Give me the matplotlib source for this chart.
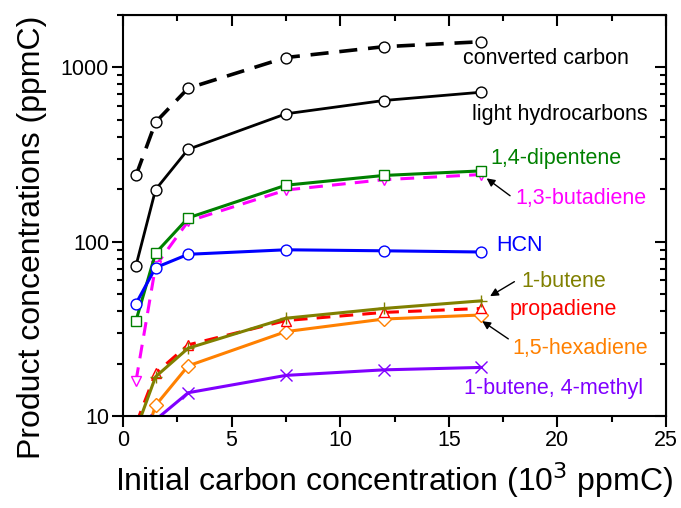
import matplotlib
matplotlib.use("Agg")
import matplotlib.pyplot as plt
from matplotlib.ticker import FixedLocator, NullFormatter, LogLocator

plt.rcParams["font.family"] = ["Liberation Sans", "DejaVu Sans"]

x = [0.6, 1.5, 3.0, 7.5, 12.0, 16.5]

converted_carbon = [240, 485, 760, 1140, 1315, 1405]
light_hydrocarbons = [73, 199, 339, 542, 646, 721]
dipentene_14 = [35.3, 86, 137, 211, 240, 255]
butadiene_13 = [15.9, 72.5, 131, 198, 227, 243]
hcn = [44.2, 71, 84.7, 89.9, 88.7, 87.3]
butene_1 = [8.3, 16.8, 24.5, 36.4, 41.4, 45.8]
propadiene = [9.0, 17.6, 25.6, 35.3, 39.3, 41.4]
hexadiene_15 = [5.2, 11.5, 19.4, 30.5, 36.0, 38.0]
x_methyl = [1.5, 3.0, 7.5, 12.0, 16.5]
butene_4methyl = [9.5, 13.6, 17.1, 18.4, 19.0]

fig = plt.figure(figsize=(6.81, 5.08), dpi=100)
ax = fig.add_axes([0.1806, 0.1811, 0.7974, 0.7894])

mk = dict(markersize=7.8, markerfacecolor="white", markeredgewidth=1.0)

ax.plot(x, converted_carbon, color="black", lw=2.6, ls=(0, (5, 3)),
        marker="o", markeredgecolor="black", **mk)
ax.plot(x, light_hydrocarbons, color="black", lw=2.0,
        marker="o", markeredgecolor="black", **mk)
ax.plot(x, butadiene_13, color="#FF00FF", lw=2.2, ls=(0, (4.5, 3)),
        marker="v", markeredgecolor="#FF00FF", **mk)
ax.plot(x, dipentene_14, color="#008000", lw=2.2,
        marker="s", markeredgecolor="#008000", **mk)
ax.plot(x, hcn, color="#0000FF", lw=2.2,
        marker="o", markeredgecolor="#0000FF", **mk)
ax.plot(x, hexadiene_15, color="#FF8000", lw=2.2,
        marker="D", markeredgecolor="#FF8000", markersize=6.8,
        markerfacecolor="white", markeredgewidth=1.0)
ax.plot(x, propadiene, color="#FF0000", lw=2.2, ls=(0, (4.5, 3)),
        marker="^", markeredgecolor="#FF0000", **mk)
ax.plot(x, butene_1, color="#808000", lw=2.2,
        marker="+", markeredgecolor="#808000", markersize=9, markeredgewidth=1.0)
ax.plot(x_methyl, butene_4methyl, color="#8000FF", lw=2.2,
        marker="x", markeredgecolor="#8000FF", markersize=8, markeredgewidth=1.0)

ax.set_yscale("log")
ax.set_xlim(0, 25)
ax.set_ylim(10, 2000)
ax.xaxis.set_major_locator(FixedLocator([0, 5, 10, 15, 20, 25]))
ax.xaxis.set_minor_locator(FixedLocator([2.5, 7.5, 12.5, 17.5, 22.5]))
ax.yaxis.set_major_locator(FixedLocator([10, 100, 1000]))
ax.yaxis.set_minor_locator(LogLocator(base=10, subs=range(2, 10)))
ax.yaxis.set_minor_formatter(NullFormatter())
ax.set_yticklabels(["10", "100", "1000"])

for side in ax.spines.values():
    side.set_linewidth(1.5)
ax.tick_params(axis="both", which="major", direction="out", length=8, width=1.5,
               labelsize=15.5, pad=2)
ax.tick_params(axis="both", which="minor", direction="out", length=4.5, width=1.5)

# mirrored inward ticks on top and right
axt = ax.secondary_xaxis("top")
axt.xaxis.set_major_locator(FixedLocator([0, 5, 10, 15, 20, 25]))
axt.xaxis.set_minor_locator(FixedLocator([2.5, 7.5, 12.5, 17.5, 22.5]))
axt.tick_params(which="major", direction="in", length=8, width=1.5, labeltop=False)
axt.tick_params(which="minor", direction="in", length=4.5, width=1.5)
axr = ax.secondary_yaxis("right")
axr.yaxis.set_major_locator(FixedLocator([10, 100, 1000]))
axr.yaxis.set_minor_locator(LogLocator(base=10, subs=range(2, 10)))
axr.tick_params(which="major", direction="in", length=8, width=1.5, labelright=False)
axr.tick_params(which="minor", direction="in", length=4.5, width=1.5, labelright=False)

ax.set_xlabel("Initial carbon concentration (10$^3$ ppmC)", fontsize=23, labelpad=7)
ax.set_ylabel("Product concentrations (ppmC)", fontsize=23)
ax.yaxis.set_label_coords(-0.14, 0.446)

fs = 15.5
ax.text(15.65, 1040, "converted carbon", color="black", fontsize=fs)
ax.text(16.07, 501, "light hydrocarbons", color="black", fontsize=fs)
ax.text(16.9, 280, "1,4-dipentene", color="#008000", fontsize=fs)
ax.text(18.05, 164, "1,3-butadiene", color="#FF00FF", fontsize=fs)
ax.text(17.17, 88.5, "HCN", color="#0000FF", fontsize=fs)
ax.text(18.36, 55.2, "1-butene", color="#808000", fontsize=fs)
ax.text(17.82, 38.2, "propadiene", color="#FF0000", fontsize=fs)
ax.text(17.94, 22.8, "1,5-hexadiene", color="#FF8000", fontsize=fs)
ax.text(15.7, 13.3, "1-butene, 4-methyl", color="#8000FF", fontsize=fs)

arrow = dict(arrowstyle="-|>", color="black", lw=1.0, mutation_scale=12,
             shrinkA=0, shrinkB=0)
ax.annotate("", xy=(16.74, 231), xytext=(17.82, 183.6), arrowprops=arrow)
ax.annotate("", xy=(16.90, 48.7), xytext=(18.02, 59.0), arrowprops=arrow)
ax.annotate("", xy=(16.54, 35.0), xytext=(17.74, 27.7), arrowprops=arrow)

fig.savefig("out.png", dpi=100)
